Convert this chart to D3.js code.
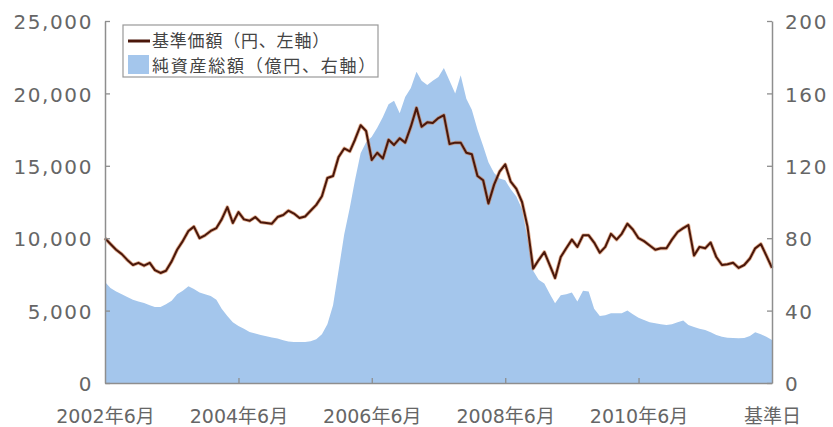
<!DOCTYPE html>
<html><head><meta charset="utf-8">
<script src="https://cdn.jsdelivr.net/npm/d3@7"></script>
<style>body{margin:0;background:#fff}svg{display:block}</style>
</head><body><div id="chart"></div>
<script>
// monthly series from 2002-06 to the base date (2012-06)
const navValues = [
 10000,9600,9200,8900,8500,8150,8300,8100,8300,7800,
 7600,7750,8400,9200,9800,10500,10800,10000,10200,10500,
 10700,11300,12150,11050,11800,11300,11200,11460,11100,11050,
 11000,11460,11600,11900,11700,11400,11500,11900,12300,12900,
 14160,14300,15600,16200,16000,16800,17800,17400,15400,15900,
 15500,16800,16440,16900,16600,17700,19000,17700,18000,17960,
 18300,18500,16500,16600,16600,15900,15800,14300,14000,12400,
 13700,14600,15100,13900,13400,12500,10800,7900,8490,9050,
 8100,7250,8700,9300,9900,9400,10200,10200,9700,9000,
 9400,10300,9900,10300,11000,10600,10000,9800,9500,9200,
 9300,9300,9900,10430,10700,10900,8800,9400,9300,9700,
 8700,8150,8200,8300,7950,8150,8600,9300,9600,8800,
 7950];
const assetValues = [
 55.8,52.5,50.5,49,47.5,46,45,44.2,43,42,
 42,43.5,45.5,49,51,53.5,52,50,49,48,
 46,41,37,33.5,31.5,30,28.2,27.3,26.5,25.8,
 25.2,24.6,23.6,22.9,22.6,22.6,22.7,23,24.2,27,
 32.5,43,62,82,97,112,127,133,136,141,
 147,154,156,149,158,163,172,167,164.6,167,
 169,174,167,160,170,157,151,140,131,122,
 116,113,112,107,103,96,80,62,57,55,
 49,44,48.5,49,50,45,51,50.5,41,37,
 37.5,38.5,38.5,38.5,40,38,36,34.8,33.5,33,
 32.5,32,32.5,33.5,34.5,32,31,30,29.3,28,
 26.5,25.5,25,24.9,24.7,24.9,26,28,27,25.5,
 23.8];
const leftTicks = [0,5000,10000,15000,20000,25000];
const rightTicks = [0,40,80,120,160,200];
const xTickMonths = [0,24,48,72,96,120];
const xTickLabels = ["2002年6月","2004年6月","2006年6月","2008年6月","2010年6月","基準日"];
const legendLabels = ["基準価額（円、左軸）","純資産総額（億円、右軸）"];

const W = 833, H = 427;
const L = 105, R = 772, T = 21, B = 383;
const start = new Date(2002, 5, 1);
const dates = navValues.map((_, i) => d3.timeMonth.offset(start, i));

const svg = d3.select("#chart").append("svg").attr("width", W).attr("height", H);

const x = d3.scaleTime().domain([dates[0], dates[dates.length - 1]]).range([L, R]);
const yL = d3.scaleLinear().domain([0, 25000]).range([B, T]);
const yR = d3.scaleLinear().domain([0, 200]).range([B, T]);

const blue = "#a4c6ec", brown = "#4a170a", axisCol = "#8e8e8e", txtCol = "#666";

svg.append("path")
  .datum(assetValues)
  .attr("fill", blue)
  .attr("d", d3.area().x((d, i) => x(dates[i])).y0(yR(0)).y1(d => yR(d)));

const line = d3.line().x((d, i) => x(dates[i])).y(d => yL(d));
svg.append("path").datum(navValues).attr("fill", "none")
  .attr("stroke", "#c46a35").attr("stroke-opacity", 0.55).attr("stroke-width", 3.6)
  .attr("stroke-linejoin", "round").attr("d", line);
svg.append("path").datum(navValues).attr("fill", "none")
  .attr("stroke", brown).attr("stroke-width", 2)
  .attr("stroke-linejoin", "round").attr("d", line);

function styleAxis(g) {
  g.selectAll(".domain").attr("stroke", axisCol).attr("stroke-width", 1.5);
  g.selectAll(".tick line").attr("stroke", axisCol).attr("stroke-width", 1.3);
  g.selectAll("text").attr("fill", txtCol)
    .style("font-family", "'DejaVu Sans','Noto Sans CJK JP',sans-serif");
}

const gL = svg.append("g").attr("transform", `translate(${L},0)`)
  .call(d3.axisLeft(yL).tickValues(leftTicks).tickFormat(d3.format(",")).tickSizeInner(-5).tickSizeOuter(0).tickPadding(12));
styleAxis(gL);
gL.selectAll("text").style("font-size", "20px").style("letter-spacing", "1.6px").attr("dy", "0.38em");

const gR = svg.append("g").attr("transform", `translate(${R},0)`)
  .call(d3.axisRight(yR).tickValues(rightTicks).tickSizeInner(-5).tickSizeOuter(0).tickPadding(13));
styleAxis(gR);
gR.selectAll("text").style("font-size", "20px").style("letter-spacing", "1.6px").attr("dy", "0.38em");

const gB = svg.append("g").attr("transform", `translate(0,${B})`)
  .call(d3.axisBottom(x).tickValues(xTickMonths.map(m => dates[m])).tickFormat((d, i) => xTickLabels[i]).tickSizeInner(-5).tickSizeOuter(0).tickPadding(0));
styleAxis(gB);
gB.selectAll(".tick line").filter((d, i) => i === 0 || i === xTickMonths.length - 1).remove();
gB.selectAll("text").style("font-size", "19px").attr("dy", null).attr("y", 40);

// legend
const lg = svg.append("g");
lg.append("rect").attr("x", 123).attr("y", 25).attr("width", 255).attr("height", 52)
  .attr("fill", "#fff").attr("stroke", "#999").attr("stroke-width", 1.2);
lg.append("line").attr("x1", 128).attr("x2", 150).attr("y1", 41).attr("y2", 41)
  .attr("stroke", brown).attr("stroke-width", 3);
lg.append("rect").attr("x", 128).attr("y", 55).attr("width", 21).attr("height", 19).attr("fill", blue);
const legendBase = [46.5, 71.6];
const legendSpacing = [0.8, 1.75];
legendLabels.forEach((t, i) => {
  lg.append("text").attr("x", 152).attr("y", legendBase[i])
    .style("font-family", "'Noto Sans CJK JP',sans-serif").style("font-size", "17px")
    .style("letter-spacing", legendSpacing[i] + "px")
    .attr("fill", "#444").text(t);
});
</script>
</body></html>
